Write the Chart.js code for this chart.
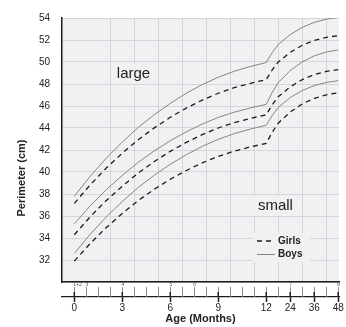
<!DOCTYPE html>
<html>
<head>
<meta charset="utf-8">
<script src="https://cdn.jsdelivr.net/npm/chart.js@4.4.1/dist/chart.umd.min.js"></script>
<style>
    html, body { margin: 0; padding: 0; background: #fff; }
    #contenedor { width: 346px; height: 327px; }
</style>
</head>
<body>
<div id="contenedor"><canvas id="grafico" width="346" height="327"></canvas></div>
<script>
// Edades (meses) en las que se leyeron las curvas.
const MESES = [0, 1, 2, 3, 4, 5, 6, 7, 8, 9, 10, 11, 12, 15, 18, 24, 30, 36, 42, 48];
// Perímetro cefálico de niños (línea continua): curva superior, media e inferior.
const NINOS_ALTO = [37.8, 39.62, 41.26, 42.72, 44.06, 45.21, 46.24, 47.16, 47.95, 48.61, 49.16, 49.59, 49.95, 50.85, 51.59, 52.49, 53.15, 53.6, 53.89, 54.05];
const NINOS_MEDIO = [35.3, 36.93, 38.39, 39.69, 40.89, 41.92, 42.84, 43.65, 44.36, 44.96, 45.44, 45.82, 46.15, 47.24, 48.13, 49.22, 50.01, 50.56, 50.9, 51.1];
const NINOS_BAJO = [32.6, 34.35, 35.92, 37.32, 38.6, 39.71, 40.7, 41.57, 42.33, 42.97, 43.49, 43.9, 44.25, 45.14, 45.87, 46.76, 47.41, 47.85, 48.14, 48.3];
// Perímetro cefálico de niñas (línea discontinua).
const NINAS_ALTO = [37.15, 38.84, 40.36, 41.71, 42.94, 44.01, 44.97, 45.81, 46.54, 47.16, 47.67, 48.06, 48.4, 49.28, 50.0, 50.88, 51.52, 51.96, 52.24, 52.4];
const NINAS_MEDIO = [34.3, 35.94, 37.41, 38.71, 39.91, 40.95, 41.88, 42.69, 43.4, 44.0, 44.49, 44.87, 45.2, 46.1, 46.84, 47.74, 48.4, 48.85, 49.14, 49.3];
const NINAS_BAJO = [31.9, 33.51, 34.95, 36.23, 37.41, 38.43, 39.34, 40.14, 40.83, 41.42, 41.9, 42.28, 42.6, 43.61, 44.44, 45.45, 46.19, 46.69, 47.02, 47.2];

// Etiquetas del eje de edad.
const MESES_EJE = [0, 3, 6, 9, 12, 24, 36, 48];
// Marcas menores del eje de edad (meses).
const MARCAS_MENORES = [0, 0.75, 1.5, 2.25, 3, 3.75, 4.5, 5.25, 6, 6.75, 7.5, 8.25, 9, 9.75, 10.5, 11.25, 12, 18, 24, 30, 36, 42, 48];
// Revisiones y su edad en meses.
const REVISIONES = ['1+2', '3', '4', '5', '6', '7', '8'];
const MESES_REVISION = [0, 0.75, 3, 6, 7.5, 24, 48];
// Líneas verticales de la cuadrícula (meses).
const MESES_CUADRICULA = [2.25, 3.75, 5.25, 6.75, 8.25, 9.75, 11.25, 18, 30, 42];
// Eje del perímetro (cm).
const PERIMETROS = [30, 32, 34, 36, 38, 40, 42, 44, 46, 48, 50, 52, 54];

// Textos dentro del gráfico: texto, mes y perímetro del centro.
const ANOTACIONES = [
    { texto: 'large', mes: 3.7, valor: 48.9 },
    { texto: 'small', mes: 16.6, valor: 36.96 }
];

/*
*   El primer año ocupa 16 px por mes y los años siguientes 2 px por mes,
*   así que se convierte la edad a una escala propia del eje.
*/
const aEje = (mes) => mes <= 12 ? mes : 12 + (mes - 12) / 8;

const FUENTE = "'Liberation Sans', Arial, Helvetica, sans-serif";
const FONDO = '#f0f1f3';
const REJILLA = '#d3d5d8';
const NEGRO = '#1c1c1c';

// Se arma cada serie con la edad y el perímetro.
const serie = (etiqueta, valores, discontinua) => ({
    label: etiqueta,
    data: MESES.map((mes, i) => ({ x: aEje(mes), y: valores[i] })),
    borderColor: discontinua ? NEGRO : '#858585',
    borderWidth: discontinua ? 1.3 : 1,
    borderDash: discontinua ? [5, 4] : [],
    pointRadius: 0,
    tension: 0,
    fill: false
});

// Fondo gris del área de trazado.
const fondoGrafico = {
    id: 'fondoGrafico',
    beforeDraw: (chart) => {
        const { ctx, chartArea: a } = chart;
        ctx.save();
        ctx.fillStyle = '#ffffff';
        ctx.fillRect(0, 0, chart.width, chart.height);
        ctx.fillStyle = FONDO;
        ctx.fillRect(a.left, a.top, a.right - a.left, a.bottom - a.top);
        ctx.restore();
    }
};

// Textos "large", "small" y la leyenda, con un recuadro del color del fondo.
const textosInternos = {
    id: 'textosInternos',
    beforeDatasetsDraw: (chart) => {
        const { ctx, chartArea: a, scales } = chart;
        ctx.save();
        ctx.font = `15px ${FUENTE}`;
        ctx.textAlign = 'center';
        ctx.textBaseline = 'middle';
        ANOTACIONES.forEach((nota) => {
            const x = scales.x.getPixelForValue(aEje(nota.mes));
            const y = scales.y.getPixelForValue(nota.valor);
            const ancho = ctx.measureText(nota.texto).width;
            ctx.fillStyle = FONDO;
            ctx.fillRect(x - ancho / 2 - 4, y - 10, ancho + 8, 20);
            ctx.fillStyle = '#222';
            ctx.fillText(nota.texto, x, y);
        });
        // Leyenda
        const lx = a.right - 82;
        const ly = a.bottom - 41;
        ctx.fillStyle = FONDO;
        ctx.fillRect(lx - 5, ly - 8, 58, 29);
        ctx.strokeStyle = NEGRO;
        ctx.lineWidth = 1.3;
        ctx.setLineDash([5, 4]);
        ctx.beginPath();
        ctx.moveTo(lx, ly);
        ctx.lineTo(lx + 16, ly);
        ctx.stroke();
        ctx.setLineDash([]);
        ctx.strokeStyle = '#858585';
        ctx.lineWidth = 1;
        ctx.beginPath();
        ctx.moveTo(lx, ly + 13.5);
        ctx.lineTo(lx + 18, ly + 13.5);
        ctx.stroke();
        ctx.font = `bold 10px ${FUENTE}`;
        ctx.textAlign = 'left';
        ctx.fillStyle = '#222';
        ctx.fillText('Girls', lx + 21, ly);
        ctx.fillText('Boys', lx + 21, ly + 13);
        ctx.restore();
    }
};

// Marcas menores, mitad superior de las marcas mayores, números de revisión y título vertical.
const ejeEdad = {
    id: 'ejeEdad',
    afterDraw: (chart) => {
        const { ctx, scales, chartArea: a } = chart;
        const eje = scales.x;
        const base = scales.xm.top;
        ctx.save();
        ctx.strokeStyle = '#8c8c8c';
        ctx.lineWidth = 1;
        MARCAS_MENORES.forEach((mes) => {
            const px = Math.round(eje.getPixelForValue(aEje(mes))) + 0.5;
            ctx.beginPath();
            ctx.moveTo(px, base - 10);
            ctx.lineTo(px, base);
            ctx.stroke();
        });
        ctx.strokeStyle = NEGRO;
        ctx.lineWidth = 1.5;
        MESES_EJE.forEach((mes) => {
            const px = eje.getPixelForValue(aEje(mes));
            ctx.beginPath();
            ctx.moveTo(px, base - 5);
            ctx.lineTo(px, base);
            ctx.stroke();
        });
        ctx.font = `5px ${FUENTE}`;
        ctx.fillStyle = '#555';
        ctx.textBaseline = 'middle';
        REVISIONES.forEach((texto, i) => {
            const px = eje.getPixelForValue(aEje(MESES_REVISION[i]));
            ctx.textAlign = i === 0 ? 'left' : 'center';
            ctx.fillText(texto, i === 0 ? px - 1 : px + 0.5, base - 12);
        });
        // Título del eje vertical, algo más abajo que el centro del área.
        ctx.translate(22, (a.top + a.bottom) / 2 + 28);
        ctx.rotate(-Math.PI / 2);
        ctx.font = `bold 11px ${FUENTE}`;
        ctx.fillStyle = '#222';
        ctx.textAlign = 'center';
        ctx.fillText('Perimeter (cm)', 0, 0);
        ctx.restore();
    }
};

const contexto = document.getElementById('grafico').getContext('2d');
const grafico = new Chart(contexto, {
    type: 'line',
    data: {
        datasets: [
            serie('Boys', NINOS_ALTO, false),
            serie('Girls', NINAS_ALTO, true),
            serie('Boys', NINOS_MEDIO, false),
            serie('Girls', NINAS_MEDIO, true),
            serie('Boys', NINOS_BAJO, false),
            serie('Girls', NINAS_BAJO, true)
        ]
    },
    options: {
        responsive: false,
        animation: false,
        devicePixelRatio: 1,
        layout: { padding: { top: 6, right: 7, left: 0, bottom: 0 } },
        plugins: {
            legend: { display: false },
            tooltip: { enabled: false }
        },
        scales: {
            x: {
                type: 'linear',
                position: 'bottom',
                weight: 0,
                min: -0.77,
                max: 16.55,
                afterBuildTicks: (escala) => {
                    escala.ticks = MESES_CUADRICULA.map((mes) => ({ value: aEje(mes) }));
                },
                afterFit: (escala) => { escala.height = 15; },
                ticks: { display: false },
                grid: { color: REJILLA, lineWidth: 1, drawTicks: false },
                border: { display: true, color: NEGRO, width: 1.5 }
            },
            xm: {
                type: 'linear',
                position: 'bottom',
                weight: 1,
                min: -0.77,
                max: 16.55,
                afterBuildTicks: (escala) => {
                    escala.ticks = MESES_EJE.map((mes) => ({ value: aEje(mes) }));
                },
                afterFit: (escala) => { escala.height = 30; },
                ticks: {
                    autoSkip: false,
                    maxRotation: 0,
                    padding: 0,
                    color: '#222',
                    font: { family: FUENTE, size: 10 },
                    callback: (valor, indice) => MESES_EJE[indice]
                },
                grid: { drawOnChartArea: false, drawTicks: true, tickLength: 5, tickColor: NEGRO, tickWidth: 1.5 },
                border: { display: true, color: NEGRO, width: 1.2 },
                title: {
                    display: true,
                    text: 'Age (Months)',
                    color: '#222',
                    font: { family: FUENTE, size: 11, weight: 'bold' },
                    padding: { top: 0, bottom: 1 }
                }
            },
            y: {
                type: 'linear',
                min: 30,
                max: 54,
                afterBuildTicks: (escala) => {
                    escala.ticks = PERIMETROS.map((valor) => ({ value: valor }));
                },
                afterFit: (escala) => { escala.width = 62; },
                ticks: {
                    padding: 12,
                    color: '#222',
                    font: { family: FUENTE, size: 10 },
                    callback: (valor) => valor === 30 ? '' : valor
                },
                grid: { color: REJILLA, lineWidth: 1, drawTicks: false },
                border: { display: true, color: NEGRO, width: 1.5 },
                title: { display: false }
            }
        }
    },
    plugins: [fondoGrafico, textosInternos, ejeEdad]
});
</script>
</body>
</html>
